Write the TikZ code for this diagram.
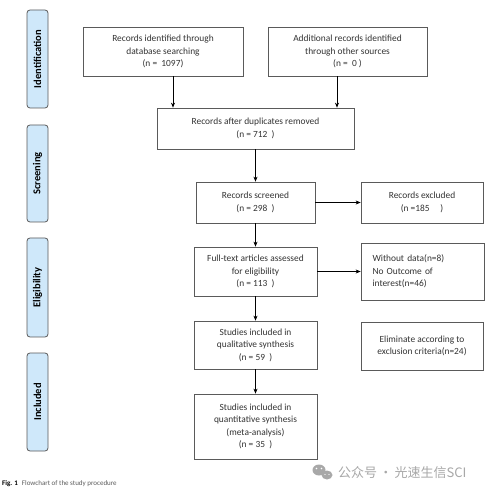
\documentclass[tikz,border=0pt]{standalone}
\usepackage{fontspec}
\setmainfont{Carlito}
\newfontfamily\cjkfont{Noto Sans CJK SC}
\usetikzlibrary{arrows.meta}
\definecolor{boxline}{HTML}{5A5A5A}
\definecolor{txt}{HTML}{333333}
\definecolor{sidefill}{HTML}{CFE8FA}
\definecolor{wm}{HTML}{A8A8A8}
\tikzset{
  box/.style={draw=boxline, line width=0.7pt, fill=white, text=txt, align=center,
    font=\fontsize{9.4}{12.5}\selectfont, inner sep=2pt},
  sidebar/.style={draw=boxline, line width=0.8pt, fill=sidefill, rounded corners=3pt,
    rotate=90, minimum height=21pt, text=black, font=\bfseries\fontsize{10.5}{12}\selectfont, inner sep=0pt},
  arr/.style={draw=black, line width=0.7pt, -{Stealth[length=5pt,width=4pt]}},
}
\begin{document}
\begin{tikzpicture}[x=1pt,y=-1pt]
\useasboundingbox[fill=white] (0,0) rectangle (498,494);

% side bars
\node[sidebar, minimum width=98pt] (sid) at (37.5,59) {Identification};
\node[sidebar, minimum width=97pt] (sscr) at (37.5,173.5) {Screening};
\node[sidebar, minimum width=99pt] (seli) at (37.5,287.5) {Eligibility};
\node[sidebar, minimum width=98pt] (sinc) at (37.5,402) {Included};

% boxes
\node[box, minimum width=160pt, minimum height=49pt] (b1) at (163,51.5)
  {Records identified through\\database searching\\(n =~~1097)};
\node[box, minimum width=159pt, minimum height=49pt] (b2) at (347.5,51.5)
  {Additional records identified\\through other sources\\(n =~~0 )};
\node[box, minimum width=197pt, minimum height=41pt] (dup) at (255.5,128.5)
  {Records after duplicates removed\\(n = 712~~)};
\node[box, minimum width=119pt, minimum height=41pt] (scr) at (255.5,202.5)
  {Records screened\\(n = 298~~)};
\node[box, minimum width=122pt, minimum height=41pt] (exc) at (422,202.5)
  {Records excluded\\(n =185~~~~~)};
\node[box, minimum width=123pt, minimum height=49pt] (ft) at (255.5,271.5)
  {Full-text articles assessed\\for eligibility\\(n = 113~~)};
\node[box, minimum width=123pt, minimum height=57pt, text width=100pt, align=left] (wd) at (422.5,271.5)
  {Without data(n=8)\\No Outcome of\\interest(n=46)};
\node[box, minimum width=123pt, minimum height=48pt] (ql) at (255.5,345)
  {Studies included in\\qualitative synthesis\\(n = 59~~)};
\node[box, minimum width=122pt, minimum height=48pt] (el) at (422,346)
  {Eliminate according to\\exclusion criteria(n=24)};
\node[box, minimum width=123pt, minimum height=65pt] (qn) at (255.5,426.5)
  {Studies included in\\quantitative synthesis\\(meta-analysis)\\(n = 35~~)};

% connectors
\draw[arr] ([xshift=10pt]b1.south) -- ([xshift=10pt]b1.south |- dup.north);
\draw[arr] ([xshift=-10.5pt]b2.south) -- ([xshift=-10.5pt]b2.south |- dup.north);
\draw[arr] (dup.south) -- (scr.north);
\draw[arr] (scr.east) -- (exc.west);
\draw[arr] (scr.south) -- (ft.north);
\draw[arr] (ft.east) -- (wd.west);
\draw[arr] (ft.south) -- (ql.north);
\draw[arr] (ql.south) -- (qn.north);

% caption
\node[anchor=west, inner sep=0pt, font=\fontsize{7}{8}\selectfont] (cap) at (2,484)
  {\textbf{Fig. 1}\hspace{4pt}\textcolor{txt!80}{Flowchart of the study procedure}};

% watermark
\fill[wm] (319,470) ellipse (6.5pt and 5.5pt);
\fill[wm] (327,475) ellipse (5.5pt and 4.5pt);
\fill[white] (316.5,468.5) circle (0.9pt) (321.5,468.5) circle (0.9pt)
  (325,474.5) circle (0.7pt) (329,474.5) circle (0.7pt);
\node[anchor=west, inner sep=0pt, text=wm, font=\cjkfont\fontsize{13}{15}\selectfont] (wmt) at (338,473)
  {公众号\,·\,光速生信SCI};
\end{tikzpicture}
\end{document}
